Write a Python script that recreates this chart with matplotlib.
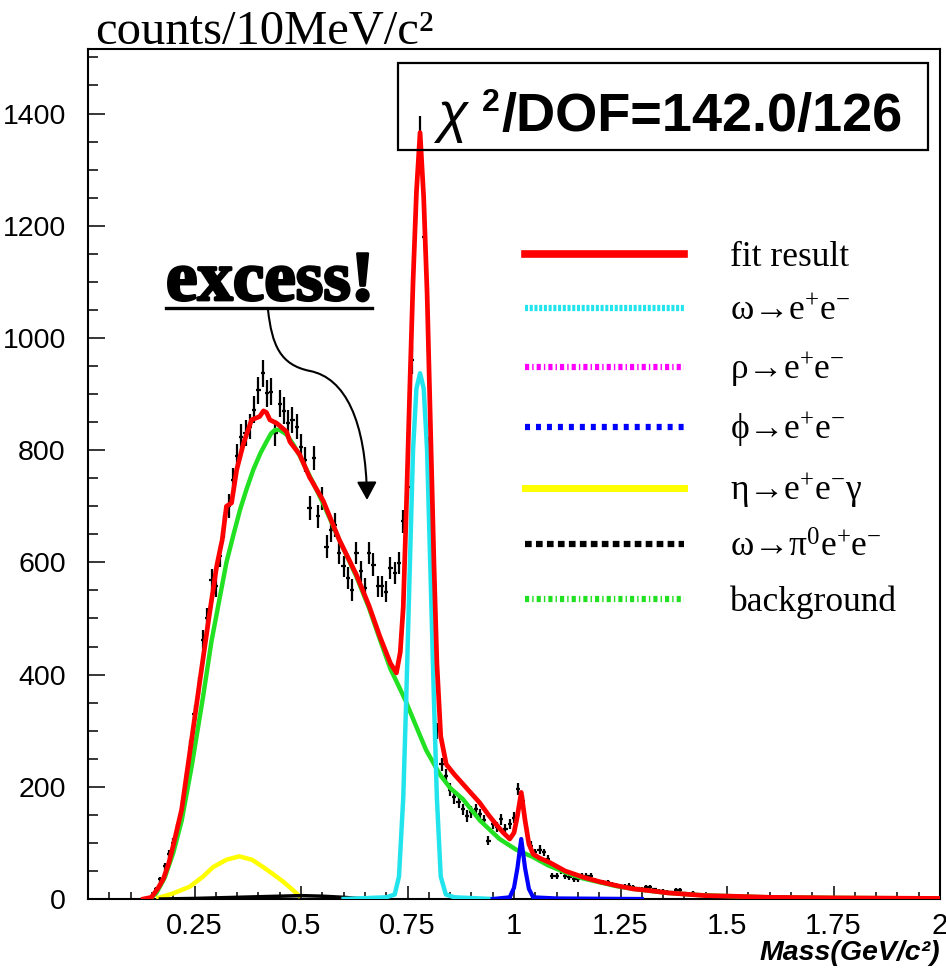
import numpy as np
import matplotlib.pyplot as plt
import matplotlib.ticker as ticker
import matplotlib.patheffects as pe
from matplotlib.lines import Line2D
from matplotlib.patches import FancyArrowPatch, Rectangle
from matplotlib.path import Path

plt.rcParams['font.family'] = ['Liberation Sans', 'DejaVu Sans']
plt.rcParams['mathtext.default'] = 'regular'
plt.rcParams['lines.scale_dashes'] = False

# measured e+e- invariant mass spectrum, 10 MeV bins, first bin at 0.15 GeV
bin_start = 0.15
bin_width = 0.01
counts = [5, 18, 35, 58, 80, 100, 124, 166, 213, 270,
          330, 380, 462, 500, 569, 557, 611, 664, 700, 747,
          789, 824, 830, 842, 872, 907, 937, 901, 904, 830,
          883, 870, 848, 854, 842, 806, 783, 697, 786, 682,
          714, 628, 658, 667, 617, 593, 572, 551, 617, 584,
          554, 617, 596, 557, 557, 548, 590, 581, 599, 673,
          735, 960, 1230, 1365, 1180, 800, 450, 300, 240, 220,
          195, 181, 172, 160, 148, 155, 160, 151, 140, 104,
          133, 128, 142, 125, 133, 145, 196, 175, 120, 95,
          83, 88, 83, 71, 41, 41, 50, 41, 39, 36,
          35, 41, 41, 41, 33, 30, 30, 30, 26, 24,
          21, 22, 24, 21, 19, 18, 21, 21, 17, 15,
          14, 13, 12, 16, 16, 10, 9, 11]
count_err = [2, 3, 5, 6, 7, 8, 9, 10, 12, 13,
             15, 16, 17, 18, 19, 19, 20, 21, 21, 22,
             22, 23, 23, 23, 24, 24, 24, 24, 24, 23,
             24, 24, 23, 23, 23, 23, 22, 21, 22, 21,
             21, 20, 21, 21, 20, 19, 19, 19, 20, 19,
             19, 20, 20, 19, 19, 19, 19, 19, 20, 21,
             22, 25, 28, 30, 27, 23, 17, 14, 12, 12,
             11, 11, 10, 10, 10, 10, 10, 10, 9, 8,
             9, 9, 10, 9, 9, 10, 11, 11, 9, 8,
             7, 8, 7, 7, 5, 5, 6, 5, 5, 5,
             5, 5, 5, 5, 5, 4, 4, 4, 4, 4,
             4, 4, 4, 4, 3, 3, 4, 4, 3, 3,
             3, 3, 3, 3, 3, 3, 2, 3]
mass = bin_start + bin_width * np.arange(len(counts))

# fit result (sum)
fit_x = [0.13, 0.149, 0.165, 0.177, 0.19, 0.20, 0.22, 0.239, 0.263, 0.282,
         0.302, 0.315, 0.325, 0.337, 0.349, 0.365, 0.384, 0.403, 0.412, 0.419,
         0.427, 0.443, 0.466, 0.474, 0.497, 0.52, 0.552, 0.59, 0.63, 0.66,
         0.685, 0.71, 0.724, 0.733, 0.74, 0.747, 0.755, 0.763, 0.771, 0.7795,
         0.788, 0.796, 0.804, 0.812, 0.819, 0.828, 0.841, 0.86, 0.88, 0.90,
         0.919, 0.94, 0.958, 0.975, 0.99, 1.0, 1.008, 1.017, 1.026, 1.035,
         1.045, 1.06, 1.084, 1.12, 1.162, 1.2, 1.24, 1.28, 1.318, 1.36,
         1.396, 1.45, 1.51, 1.6, 1.75, 2.0]
fit_y = [0, 3, 20, 36, 65, 95, 160, 261, 391, 492,
         593, 640, 700, 706, 765, 812, 854, 860, 870, 867,
         854, 848, 833, 815, 792, 752, 710, 640, 578, 522,
         468, 420, 403, 440, 520, 690, 900, 1100, 1260, 1366,
         1250, 1080, 840, 600, 420, 290, 240, 222, 205, 188,
         172, 150, 133, 118, 107, 118, 148, 190, 140, 98,
         80, 73, 65, 50, 39, 31, 24, 18, 15, 11,
         9, 6, 5, 3, 2, 1]

# omega -> e+e-
omega_x = [0.60, 0.70, 0.72, 0.73, 0.74, 0.747, 0.755, 0.763, 0.771, 0.7795,
           0.788, 0.796, 0.804, 0.812, 0.819, 0.828, 0.84, 0.86, 0.95]
omega_y = [0, 3, 8, 40, 180, 356, 580, 800, 910, 937,
           910, 800, 580, 356, 180, 40, 8, 3, 0]

# phi -> e+e-
phi_x = [0.95, 0.99, 1.0, 1.008, 1.017, 1.026, 1.035, 1.045, 1.1, 1.3]
phi_y = [0, 3, 20, 55, 107, 55, 18, 3, 1, 0]

# eta -> e+e-gamma
eta_x = [0.165, 0.20, 0.239, 0.27, 0.294, 0.325, 0.355, 0.385, 0.411, 0.435,
         0.458, 0.478, 0.495]
eta_y = [2, 10, 22, 40, 57, 70, 76, 70, 57, 44,
         31, 18, 6]

# omega -> pi0 e+e-
dalitz_x = [0.17, 0.25, 0.35, 0.45, 0.5, 0.55, 0.6, 0.65]
dalitz_y = [0, 1, 3, 5, 6, 5, 3, 0]

# background
bg_x = [0.145, 0.16, 0.18, 0.20, 0.22, 0.243, 0.27, 0.29, 0.31, 0.325,
        0.341, 0.357, 0.372, 0.388, 0.405, 0.419, 0.43, 0.439, 0.45, 0.466,
        0.482, 0.497, 0.513, 0.529, 0.552, 0.59, 0.63, 0.66, 0.685, 0.71,
        0.724, 0.744, 0.779, 0.794, 0.826, 0.85, 0.88, 0.92, 0.966, 1.005,
        1.044, 1.08, 1.122, 1.16, 1.2, 1.24, 1.28, 1.357, 1.435, 1.51,
        1.6, 1.75, 2.0]
bg_y = [0, 10, 38, 82, 140, 235, 360, 460, 540, 600,
        648, 694, 730, 765, 795, 815, 830, 836, 836, 828,
        810, 790, 765, 741, 705, 640, 575, 518, 463, 410,
        388, 356, 292, 265, 222, 198, 178, 140, 107, 88,
        75, 60, 47, 37, 30, 23, 18, 11, 7, 5,
        3, 2, 1]

x_ticks = [0.25, 0.5, 0.75, 1.0, 1.25, 1.5, 1.75, 2.0]
x_tick_labels = ['0.25', '0.5', '0.75', '1', '1.25', '1.5', '1.75', '2']

legend_labels = ['fit result',
                 'ω→e$^{+}$e$^{-}$',
                 'ρ→e$^{+}$e$^{-}$',
                 'ϕ→e$^{+}$e$^{-}$',
                 'η→e$^{+}$e$^{-}$γ',
                 'ω→π$^{0}$e$^{+}$e$^{-}$',
                 'background']

fit_color = '#ff0000'
omega_color = '#22e4ec'
rho_color = '#ff00ff'
phi_color = '#0000ff'
eta_color = '#ffff00'
dalitz_color = 'black'
bg_color = '#22e022'

serif = ['Liberation Serif', 'DejaVu Serif']

fig = plt.figure(figsize=(9.46, 9.69), dpi=100)
ax = fig.add_axes([88/946, 70/969, 852/946, 850/969])

# data with error bars
ax.errorbar(mass, counts, yerr=count_err, xerr=bin_width/2, fmt='none',
            ecolor='black', elinewidth=1.6, capsize=0, zorder=2)

# fit components
ax.plot(bg_x, bg_y, color=bg_color, lw=3.2, zorder=3)
ax.plot(eta_x, eta_y, color=eta_color, lw=3.2, zorder=3)
ax.plot(dalitz_x, dalitz_y, color=dalitz_color, lw=2.5, zorder=3)
ax.plot(omega_x, omega_y, color=omega_color, lw=3.2, zorder=3)
ax.plot(phi_x, phi_y, color=phi_color, lw=3.0, zorder=3)
ax.plot(fit_x, fit_y, color=fit_color, lw=3.4, zorder=4)

ax.set_xlim(0, 2)
ax.set_ylim(0, 1515)

ax.xaxis.set_major_locator(ticker.FixedLocator(x_ticks))
ax.set_xticklabels(x_tick_labels)
ax.xaxis.set_minor_locator(ticker.MultipleLocator(0.05))
ax.yaxis.set_major_locator(ticker.MultipleLocator(200))
ax.yaxis.set_minor_locator(ticker.MultipleLocator(50))

ax.tick_params(which='both', direction='in', top=False, right=False)
ax.tick_params(axis='x', which='major', length=9.5, width=1.1, pad=9, labelsize=21)
ax.tick_params(axis='x', which='minor', length=5, width=1.1)
ax.tick_params(axis='y', which='major', length=12, width=1.1, pad=16, labelsize=20.5)
ax.tick_params(axis='y', which='minor', length=7, width=1.1)
for s in ax.spines.values():
    s.set_linewidth(1.5)

# legend (styles as in the original key)
handles = [Line2D([], [], color=fit_color, lw=5.5),
           Line2D([], [], color=omega_color, lw=4.5, dashes=(2.2, 1.2)),
           Line2D([], [], color=rho_color, lw=4.5, dashes=(3, 2.2, 1, 2.2)),
           Line2D([], [], color=phi_color, lw=4.5, dashes=(3.6, 4.3)),
           Line2D([], [], color=eta_color, lw=5),
           Line2D([], [], color=dalitz_color, lw=4.5, dashes=(4.8, 3.1)),
           Line2D([], [], color=bg_color, lw=4.5, dashes=(3, 2.2, 1, 2.2))]
ax.legend(handles, legend_labels, loc='upper left', bbox_to_anchor=(0.513, 0.774),
          frameon=False, prop={'family': serif, 'size': 25.5},
          handlelength=4.49, handletextpad=1.3, labelspacing=0.6,
          borderpad=0, borderaxespad=0)

# titles
fig.text(95/946, 1 - 43/969, 'counts/10MeV/c²', family=serif, fontsize=35, va='baseline')
fig.text(940/946, 1 - 960/969, 'Mass(GeV/c²)', fontsize=20.5, weight='bold',
         style='italic', ha='right', va='baseline')

# chi2 box
fig.add_artist(Rectangle((398/946, 1 - 150/969), 530/946, 87/969, fill=False,
                         edgecolor='black', lw=1.6, transform=fig.transFigure))
fig.text(437/946, 1 - 131/969, 'χ', fontsize=40, style='italic', va='baseline')
fig.text(482/946, 1 - 111/969, '2', fontsize=23, weight='bold', va='baseline')
fig.text(501/946, 1 - 131/969, '/DOF=142.0/126', fontsize=39, weight='bold', va='baseline')

# excess annotation
fig.text(166/946, 1 - 300/969, 'excess!', family=serif, weight='bold', fontsize=51,
         va='baseline', path_effects=[pe.withStroke(linewidth=2, foreground='black')])
fig.add_artist(Line2D([166/946, 372/946], [1 - 308/969, 1 - 308/969], color='black',
                      lw=2.4, transform=fig.transFigure))

verts = [(0.2113, 0.6929), (0.216, 0.6518), (0.2254, 0.6282), (0.2606, 0.6212),
         (0.3016, 0.6129), (0.3263, 0.5635), (0.3275, 0.4694)]
codes = [Path.MOVETO, Path.CURVE4, Path.CURVE4, Path.CURVE4,
         Path.CURVE4, Path.CURVE4, Path.CURVE4]
arrow = FancyArrowPatch(path=Path(verts, codes),
                        arrowstyle='-|>,head_length=0.55,head_width=0.3',
                        mutation_scale=20, lw=1.5, color='black',
                        transform=ax.transAxes, zorder=5)
ax.add_patch(arrow)

fig.savefig('out.png', dpi=100)
